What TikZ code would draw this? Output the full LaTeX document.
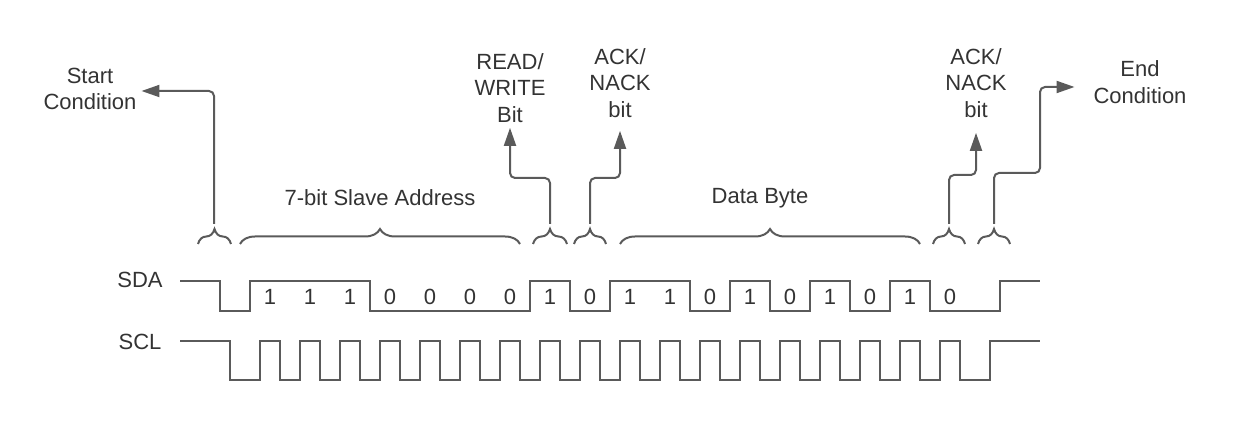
\documentclass[tikz,border=0pt]{standalone}
\usepackage{fontspec}
\setmainfont{Liberation Sans}
\usetikzlibrary{positioning, arrows.meta, decorations.pathreplacing}
\definecolor{wire}{HTML}{5A5A5A}
\definecolor{ink}{HTML}{333333}

\begin{document}
\begin{tikzpicture}[x=0.5pt, y=-0.5pt, line width=1pt,
    every node/.style={text=ink, font=\fontsize{11}{13.4}\selectfont},
    wave/.style={draw=wire, line join=miter},
    curly/.style={draw=wire, decorate, decoration={brace, amplitude=7.5pt}},
    flow/.style={draw=wire, rounded corners=2.5pt, -{Triangle[length=9pt, width=6pt]}},
    note/.style={align=center, inner sep=2pt}]
            \useasboundingbox (0,0) rectangle (1240,421);

            % Signal names
            \node (sda) at (140,280) {SDA};
            \node (scl) at (140,342) {SCL};

            % Draw waveforms
            \draw[wave] (180,281) -- (220,281) -- (220,311) -- (250,311) -- (250,281) -- (370,281) -- (370,311) -- (530,311) -- (530,281) -- (570,281) -- (570,311) -- (610,311) -- (610,281) -- (690,281) -- (690,311) -- (730,311) -- (730,281) -- (770,281) -- (770,311) -- (810,311) -- (810,281) -- (850,281) -- (850,311) -- (890,311) -- (890,281) -- (930,281) -- (930,311) -- (1000,311) -- (1000,281) -- (1040,281);
            \draw[wave] (180,341) -- (230,341) -- (230,380)
                foreach \k in {0,...,17} { -- ({260+40*\k},380) -- ({260+40*\k},341) -- ({280+40*\k},341) -- ({280+40*\k},380) }
                -- (990,380) -- (990,341) -- (1040,341);

            \foreach \b [count=\i] in {1,1,1,0,0,0,0,1,0,1,1,0,1,0,1,0,1,0}
                \node (b\i) at ({230+40*\i},297) {\b};

            % Draw braces
            \draw[curly] (198,244) -- (231,244);
            \draw[curly] (240,244) -- (520,244);
            \draw[curly] (533,244) -- (567,244);
            \draw[curly] (574,244) -- (606,244);
            \draw[curly] (620,244) -- (920,244);
            \draw[curly] (933,244) -- (965,244);
            \draw[curly] (978,244) -- (1010,244);

            \coordinate (stTip) at (214,224);
            \coordinate (rwTip) at (550,224);
            \coordinate (ack1Tip) at (590,224);
            \coordinate (ack2Tip) at (949,224);
            \coordinate (enTip) at (994,224);

            % Labels
            \node (addrLbl) at (380,198) {7-bit Slave Address};
            \node (dataLbl) at (760,198) {Data Byte};
            \node[note] (startLbl) at (90,89) {Start\\Condition};
            \node[note] (rwLbl) at (510,88) {READ/\\WRITE\\Bit};
            \node[note] (ack1Lbl) at (620,83) {ACK/\\NACK\\bit};
            \node[note] (ack2Lbl) at (976,83) {ACK/\\NACK\\bit};
            \node[note] (endLbl) at (1140,82) {End\\Condition};

            % Draw arrows
            \draw[flow] (stTip) |- ([yshift=-1pt]startLbl.east);
            \draw[flow] (rwTip) -- ++(0,-46) -| (rwLbl.south);
            \draw[flow, shorten >=4pt] (ack1Tip) -- ++(0,-46) -| (ack1Lbl.south);
            \draw[flow, shorten >=5pt] (ack2Tip) -- ++(0,-49) -| (ack2Lbl.south);
            \draw[flow, shorten >=7pt] (enTip) -- ++(0,-51) -- ++(46,0) |- ([yshift=-2.5pt]endLbl.west);
        \end{tikzpicture}
\end{document}
